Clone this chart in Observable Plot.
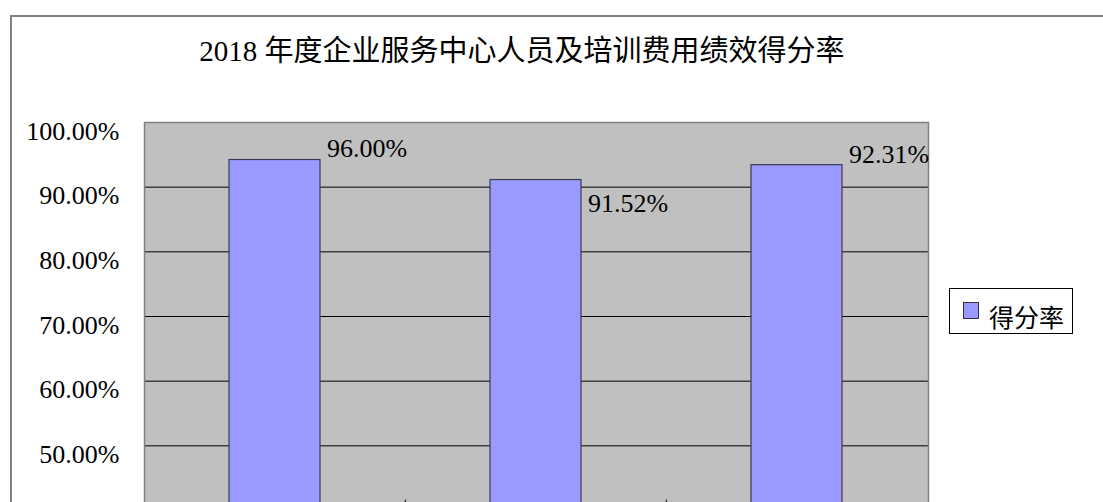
<!DOCTYPE html>
<html>
<head>
<meta charset="utf-8">
<script src="https://cdn.jsdelivr.net/npm/d3@7"></script>
<script src="https://cdn.jsdelivr.net/npm/@observablehq/plot@0.6"></script>
<style>
  html, body { margin: 0; padding: 0; background: #fff; overflow: hidden; }
  #wrap { position: relative; width: 1103px; height: 502px; overflow: hidden; background: #fff; }
  #frame { position: absolute; left: 10px; top: 15px; width: 1200px; height: 700px; border: 2px solid #808080; box-sizing: border-box; }
  #title { position: absolute; left: 0; top: 35px; width: 1044px; text-align: center; line-height: 32px;
           font-family: "Liberation Serif", "Noto Sans CJK SC", serif; font-size: 29px; color: #000; white-space: nowrap; }
  #chart { position: absolute; left: 0; top: 0; }
  #legend { position: absolute; left: 949px; top: 288px; width: 124px; height: 46px; border: 1px solid #000;
            background: #fff; box-sizing: border-box; }
  #legend .sw { position: absolute; left: 13px; top: 13px; width: 16px; height: 17px; background: #9999FF;
                border: 1px solid #333; box-sizing: border-box; }
  #legend .lb { position: absolute; left: 39px; top: 12px; line-height: 30px; font-family: "Noto Sans CJK SC", sans-serif;
                font-size: 25px; color: #000; white-space: nowrap; }
</style>
</head>
<body>
<div id="wrap">
  <div id="frame"></div>
  <div id="title"></div>
  <div id="chart"></div>
  <div id="legend"><div class="sw"></div><div class="lb"></div></div>
</div>
<script>
// Category names lie below the visible part of the reference (cut off), so they are not shown.
const categories = ["项目一", "项目二", "项目三"];
// Bar heights as drawn in the reference (percent)
const barValues = [94.2, 91.1, 93.4];
// Data label texts as printed in the reference
const labelTexts = ["96.00%", "91.52%", "92.31%"];
// Vertical anchor of each data label, in percent units
const labelAnchors = [96.0, 87.4, 95.1];
const yTicks = [50, 60, 70, 80, 90, 100];
const yDomain = [40, 100];
const seriesName = "得分率";
const titleText = "2018 年度企业服务中心人员及培训费用绩效得分率";

const data = categories.map((c, i) => ({cat: c, value: barValues[i], label: labelTexts[i], labelY: labelAnchors[i]}));

document.getElementById("title").textContent = titleText;
document.querySelector("#legend .lb").textContent = seriesName;

const W = 1103, mL = 144, mR = 175, mT = 122, mB = 50;
const step = (W - mL - mR) / categories.length;

const chart = Plot.plot({
  width: W,
  height: 560,
  marginLeft: mL,
  marginRight: mR,
  marginTop: mT,
  marginBottom: mB,
  style: {fontFamily: '"Liberation Serif", "Noto Sans CJK SC", serif', background: "transparent", overflow: "visible", color: "#000"},
  x: {domain: categories, paddingInner: 0.65, paddingOuter: 0.325, axis: null},
  y: {domain: yDomain},
  marks: [
    Plot.frame({fill: "#C0C0C0"}),
    Plot.ruleY(yTicks.filter(d => d < yDomain[1]), {stroke: "#000", strokeWidth: 1}),
    Plot.barY(data, {x: "cat", y1: () => yDomain[0], y2: "value", fill: "#9999FF", stroke: "#3a3a55", strokeWidth: 1.2}),
    Plot.ruleX(categories.slice(1), {x: d => d, y1: () => yDomain[0], y2: () => yDomain[0] + 1.6, dx: -step / 2, stroke: "#000"}),
    Plot.frame({stroke: "#808080", strokeWidth: 1.5}),
    Plot.text(data, {x: "cat", y: "labelY", text: "label", textAnchor: "start", dx: 52, fontSize: 26, fill: "#000"}),
    Plot.axisY({ticks: yTicks, tickFormat: d => d.toFixed(2) + "%", tickSize: 0, tickPadding: 25, fontSize: 26, dy: 9, label: null})
  ]
});
document.getElementById("chart").appendChild(chart);
</script>
</body>
</html>
